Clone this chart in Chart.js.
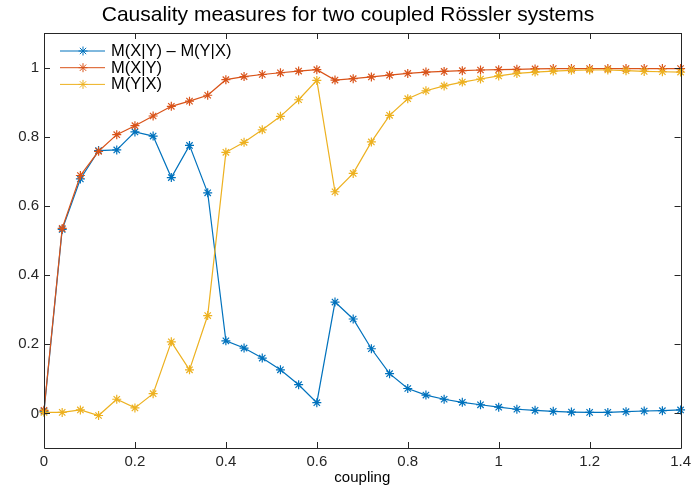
<!DOCTYPE html>
<html>
<head>
<meta charset="utf-8">
<script src="https://cdn.jsdelivr.net/npm/chart.js@4.4.1/dist/chart.umd.min.js"></script>
<style>
html, body { margin: 0; padding: 0; background: #fff; }
#wrap { width: 696px; height: 491px; position: relative; }
</style>
</head>
<body>
<div id="wrap"><canvas id="myChart"></canvas></div>
<script>
// data
const coupling = [0, 0.04, 0.08, 0.12, 0.16, 0.2, 0.24, 0.28, 0.32, 0.36, 0.4, 0.44, 0.48, 0.52, 0.56, 0.6,
	0.64, 0.68, 0.72, 0.76, 0.8, 0.84, 0.88, 0.92, 0.96, 1.0, 1.04, 1.08, 1.12, 1.16, 1.2, 1.24, 1.28, 1.32, 1.36, 1.4];

const diffXY = [0.006, 0.532, 0.678, 0.760, 0.762, 0.814, 0.802, 0.682, 0.775, 0.638, 0.210, 0.189, 0.160, 0.126, 0.083, 0.031,
	0.322, 0.273, 0.187, 0.115, 0.072, 0.053, 0.041, 0.032, 0.025, 0.018, 0.012, 0.009, 0.006, 0.004, 0.003, 0.003, 0.005, 0.007, 0.008, 0.010];

const mXgivenY = [0.009, 0.535, 0.688, 0.758, 0.806, 0.832, 0.860, 0.888, 0.903, 0.920, 0.965, 0.974, 0.980, 0.985, 0.990, 0.994,
	0.964, 0.968, 0.973, 0.978, 0.983, 0.987, 0.989, 0.991, 0.993, 0.994, 0.995, 0.996, 0.997, 0.997, 0.997, 0.997, 0.997, 0.997, 0.997, 0.997];

const mYgivenX = [0.003, 0.003, 0.010, -0.006, 0.041, 0.016, 0.057, 0.207, 0.126, 0.283, 0.755, 0.784, 0.820, 0.859, 0.907, 0.963,
	0.641, 0.694, 0.785, 0.862, 0.910, 0.933, 0.947, 0.958, 0.967, 0.976, 0.983, 0.987, 0.990, 0.992, 0.993, 0.993, 0.991, 0.989, 0.988, 0.987];

const xTicks = [0, 0.2, 0.4, 0.6, 0.8, 1, 1.2, 1.4];
const yTicks = [0, 0.2, 0.4, 0.6, 0.8, 1];

const FONT = "'Liberation Sans', Arial, Helvetica, sans-serif";
const AXIS_COLOR = '#262626';

function pairs(ys) {
	return coupling.map((c, i) => ({ x: c, y: ys[i] }));
}

// ticks pointing inward on all four sides + box
const boxTicks = {
	id: 'boxTicks',
	afterDatasetsDraw(chart) {
		const { ctx, chartArea: a, scales } = chart;
		const len = 6;
		ctx.save();
		ctx.strokeStyle = AXIS_COLOR;
		ctx.lineWidth = 1;
		ctx.beginPath();
		ctx.rect(Math.round(a.left) + 0.5, Math.round(a.top) + 0.5, Math.round(a.right - a.left), Math.round(a.bottom - a.top));
		xTicks.forEach(v => {
			const px = Math.round(scales.x.getPixelForValue(v)) + 0.5;
			ctx.moveTo(px, a.bottom); ctx.lineTo(px, a.bottom - len);
			ctx.moveTo(px, a.top); ctx.lineTo(px, a.top + len);
		});
		yTicks.forEach(v => {
			const py = Math.round(scales.y.getPixelForValue(v)) + 0.5;
			ctx.moveTo(a.left, py); ctx.lineTo(a.left + len, py);
			ctx.moveTo(a.right, py); ctx.lineTo(a.right - len, py);
		});
		ctx.stroke();
		ctx.restore();
	}
};

// title over the whole figure
const figTitle = {
	id: 'figTitle',
	afterDraw(chart) {
		const ctx = chart.ctx;
		ctx.save();
		ctx.fillStyle = '#000';
		ctx.font = `21px ${FONT}`;
		ctx.textAlign = 'center';
		ctx.textBaseline = 'middle';
		ctx.fillText('Causality measures for two coupled Rössler systems', 348, 15);
		ctx.restore();
	}
};

// matlab-like legend: line + marker + text
const lineLegend = {
	id: 'lineLegend',
	afterDraw(chart) {
		const ctx = chart.ctx;
		ctx.save();
		ctx.font = `16.5px ${FONT}`;
		ctx.textBaseline = 'middle';
		chart.data.datasets.forEach((ds, i) => {
			const y = 51 + i * 16.7;
			ctx.strokeStyle = ds.borderColor;
			ctx.lineWidth = 1;
			ctx.beginPath();
			ctx.moveTo(60, y); ctx.lineTo(105, y);
			ctx.stroke();
			Chart.helpers.drawPoint(ctx, { pointStyle: 'star', radius: 4.5, borderWidth: 1 }, 83, y);
			ctx.fillStyle = '#000';
			ctx.fillText(ds.label, 111, y + 0.5);
		});
		ctx.restore();
	}
};

window.addEventListener("load", function() {
	const blue = '#0072BD';
	const orange = '#D95319';
	const yellow = '#EDB120';

	let data = {
		datasets: [
			{ label: 'M(X|Y) – M(Y|X)', data: pairs(diffXY), borderColor: blue, backgroundColor: blue, order: 2 },
			{ label: 'M(X|Y)', data: pairs(mXgivenY), borderColor: orange, backgroundColor: orange, order: 1 },
			{ label: 'M(Y|X)', data: pairs(mYgivenX), borderColor: yellow, backgroundColor: yellow, order: 0 }
		].map(d => Object.assign(d, {
			borderWidth: 1.2,
			pointStyle: 'star',
			pointRadius: 4.5,
			pointBorderWidth: 1.2,
			pointBorderColor: d.borderColor,
			tension: 0,
			clip: false
		}))
	};

	let options = {
		responsive: true,
		maintainAspectRatio: false,
		animation: false,
		layout: { padding: { top: 33, right: 14, left: 0, bottom: 0 } },
		plugins: { legend: { display: false }, title: { display: false }, tooltip: { enabled: false } },
		scales: {
			x: {
				type: 'linear',
				min: 0, max: 1.4,
				afterBuildTicks: s => { s.ticks = xTicks.map(v => ({ value: v })); },
				afterFit: s => { s.height = 43; },
				grid: { display: false, drawTicks: false },
				border: { display: false },
				ticks: { color: AXIS_COLOR, font: { family: FONT, size: 15 }, padding: 5, maxRotation: 0, callback: v => String(v) },
				title: { display: true, text: 'coupling', color: '#000', font: { family: FONT, size: 15 }, padding: { top: 0, bottom: 4 } }
			},
			y: {
				min: -0.1, max: 1.1,
				afterBuildTicks: s => { s.ticks = yTicks.map(v => ({ value: v })); },
				afterFit: s => { s.width = 44; },
				grid: { display: false, drawTicks: false },
				border: { display: false },
				ticks: { color: AXIS_COLOR, font: { family: FONT, size: 15 }, padding: 5, callback: v => String(v) }
			}
		}
	};

	const ctx = document.getElementById('myChart').getContext('2d');

	let myChart = new Chart(ctx, {
		type: 'line',
		data: data,
		options: options,
		plugins: [boxTicks, figTitle, lineLegend]
	});
});
</script>
</body>
</html>
